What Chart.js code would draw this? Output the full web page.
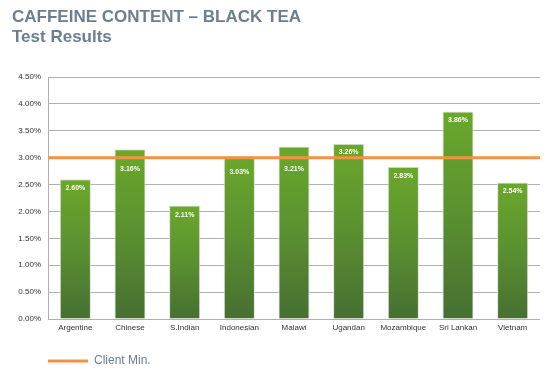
<!DOCTYPE html>
<html>
<head>
<meta charset="utf-8">
<script src="https://cdn.jsdelivr.net/npm/chart.js@4/dist/chart.umd.min.js"></script>
<style>
  html, body { margin: 0; padding: 0; background: #fff; }
  #wrap { width: 557px; height: 377px; }
</style>
</head>
<body>
<div id="wrap"><canvas id="myChart"></canvas></div>
<script>
var origins = ["Argentine", "Chinese", "S.Indian", "Indonesian", "Malawi", "Ugandan", "Mozambique", "Sri Lankan", "Vietnam"];
var caffeine = [2.60, 3.16, 2.11, 3.03, 3.21, 3.26, 2.83, 3.86, 2.54];
var clientMin = 3.00;
var yTicks = [0, 0.5, 1, 1.5, 2, 2.5, 3, 3.5, 4, 4.5];

Chart.defaults.font.family = "Arial, 'Liberation Sans', sans-serif";

function barGradient(c) {
  var chart = c.chart;
  if (!chart.chartArea || c.raw === undefined) return '#5f9a2e';
  var y = chart.scales.y;
  var top = y.getPixelForValue(c.raw);
  var bottom = y.getPixelForValue(0);
  var g = chart.ctx.createLinearGradient(0, top, 0, bottom);
  g.addColorStop(0, '#6aa82b');
  g.addColorStop(0.5, '#5a9030');
  g.addColorStop(1, '#466f31');
  return g;
}

// white % labels under the top of each bar, kept off the orange line
var valueLabels = {
  id: 'valueLabels',
  afterDatasetsDraw: function (chart) {
    var meta = chart.getDatasetMeta(0);
    var lineY = chart.scales.y.getPixelForValue(clientMin);
    var ctx = chart.ctx;
    ctx.save();
    ctx.fillStyle = '#ffffff';
    ctx.font = "bold 7px Arial, 'Liberation Sans', sans-serif";
    ctx.textAlign = 'center';
    ctx.textBaseline = 'middle';
    meta.data.forEach(function (bar, i) {
      var cy = bar.y + 9;
      if (cy + 4 > lineY - 6 && cy - 4 < lineY + 8) {
        if (lineY - bar.y >= 13) cy = lineY - 6;
        else cy = Math.max(lineY + 11, bar.y + 16);
      }
      ctx.fillText(caffeine[i].toFixed(2) + '%', bar.x, cy);
    });
    ctx.restore();
  }
};

var ctx = document.getElementById('myChart').getContext('2d');
var myChart = new Chart(ctx, {
  data: {
    labels: origins,
    datasets: [{
      type: 'bar',
      label: 'Caffeine',
      data: caffeine,
      backgroundColor: barGradient,
      borderColor: 'rgba(225,225,225,1)',
      borderWidth: 1,
      barPercentage: 0.57,
      categoryPercentage: 1,
      grouped: false,
      order: 1
    }, {
      type: 'line',
      label: 'Client Min.',
      xAxisID: 'x2',
      data: [{ x: 0, y: clientMin }, { x: 1, y: clientMin }],
      borderColor: '#f39341',
      backgroundColor: '#f39341',
      borderWidth: 3,
      pointRadius: 0,
      pointStyle: 'line',
      order: 0
    }]
  },
  options: {
    responsive: true,
    maintainAspectRatio: false,
    animation: false,
    layout: { padding: { left: 12, right: 17, top: 0, bottom: 0 } },
    scales: {
      x: {
        type: 'category',
        grid: { display: false, drawTicks: false },
        border: { display: false },
        ticks: { color: '#333', font: { size: 8 }, padding: 4, maxRotation: 0 },
        afterFit: function (s) { s.height = 36; }
      },
      x2: { type: 'linear', display: false, min: 0, max: 1 },
      y: {
        min: 0,
        max: 4.5,
        afterBuildTicks: function (s) { s.ticks = yTicks.map(function (v) { return { value: v }; }); },
        grid: { color: '#b0b0b0', lineWidth: 1, drawTicks: false },
        border: { display: true, color: '#b0b0b0' },
        ticks: {
          color: '#333',
          font: { size: 8 },
          padding: 7,
          callback: function (v) { return v.toFixed(2) + '%'; }
        },
        afterFit: function (s) { s.width = 36; }
      }
    },
    plugins: {
      title: {
        display: true,
        text: ['CAFFEINE CONTENT \u2013 BLACK TEA', 'Test Results'],
        align: 'start',
        color: '#6b808e',
        font: { size: 17, weight: 'bold', lineHeight: 1.15 },
        padding: { top: 8, bottom: 30 }
      },
      legend: {
        position: 'bottom',
        align: 'start',
        fullSize: false,
        labels: {
          filter: function (item) { return item.datasetIndex === 1; },
          usePointStyle: true,
          pointStyleWidth: 40,
          color: '#6b808e',
          font: { size: 12 },
          padding: 0
        }
      },
      tooltip: { enabled: false }
    }
  },
  plugins: [valueLabels]
});
</script>
</body>
</html>
